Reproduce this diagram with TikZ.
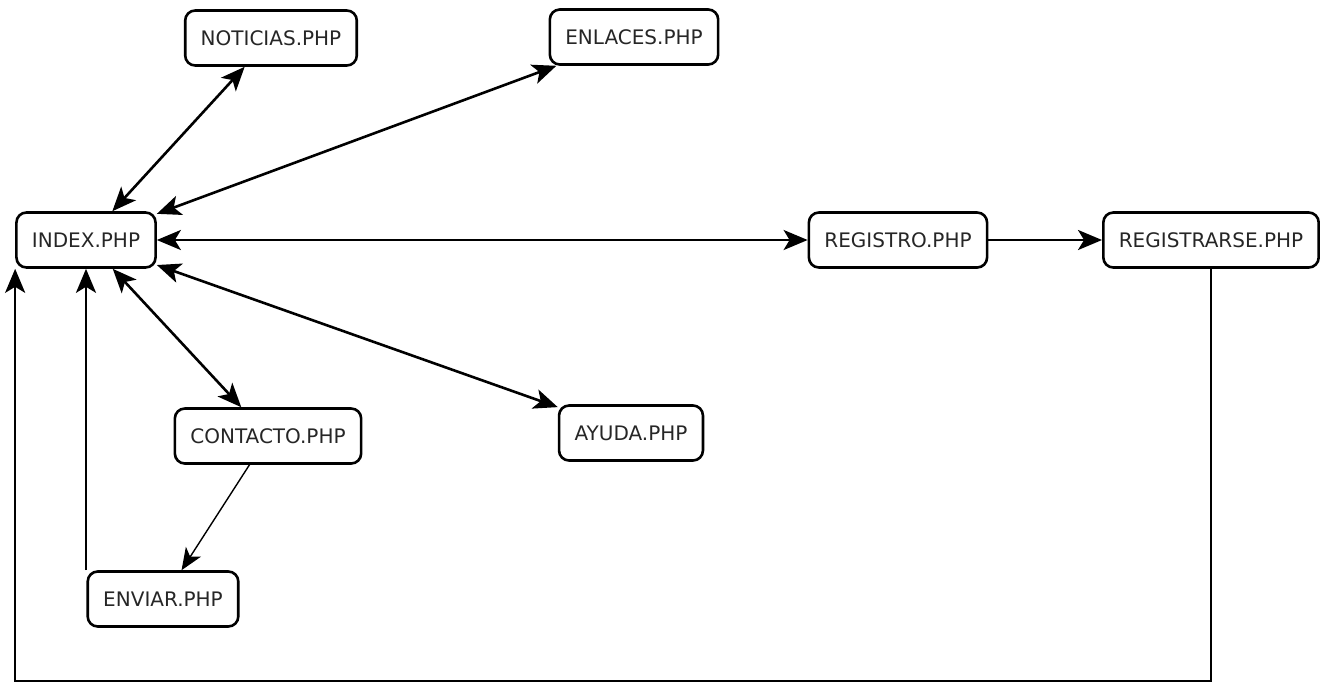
\documentclass[tikz,border=0pt]{standalone}
\usepackage{fontspec}
\setmainfont{DejaVu Sans}
\usetikzlibrary{arrows.meta}
\begin{document}
\begin{tikzpicture}[
x=0.5pt,y=-0.5pt,
every node/.style={draw,rounded corners=5pt,line width=1.3pt,minimum height=27.5pt,inner xsep=7.75pt,text=black!85,font=\fontsize{10}{12}\selectfont},
link/.style={line width=1.3pt,-{Stealth[length=12pt,width=10pt,inset=3pt]}},
biglink/.style={link,{Stealth[length=12pt,width=10pt,inset=3pt]}-{Stealth[length=12pt,width=10pt,inset=3pt]}},
thinlink/.style={line width=0.7pt,-{Stealth[length=11pt,width=9pt,inset=3pt]}}
]
\useasboundingbox (0,0) rectangle (1327,681);
\node (index) at (86,240) {INDEX.PHP};
\node (noticias) at (271,38) {NOTICIAS.PHP};
\node (enlaces) at (634,37) {ENLACES.PHP};
\node (registro) at (898,240) {REGISTRO.PHP};
\node (registrarse) at (1211,240) {REGISTRARSE.PHP};
\node (contacto) at (268,436) {CONTACTO.PHP};
\node (ayuda) at (631,433) {AYUDA.PHP};
\node (enviar) at (163,599) {ENVIAR.PHP};
\coordinate (base) at (0,681.5);
% enlaces desde index
\draw[biglink] (index) -- (noticias);
\draw[biglink] (index) -- (enlaces);
\draw[biglink] (index) -- (registro);
\draw[biglink] (index) -- (contacto);
\draw[biglink] (index) -- (ayuda);
\draw[link] (registro) -- (registrarse);
\draw[thinlink] (contacto) -- (enviar);
\draw[link] (enviar.north -| index.south) -- (index.south);
% vuelta a index
\draw[link] (registrarse.south) -- (registrarse.south |- base) -- (index.south west |- base) -- (index.south west);
\end{tikzpicture}
\end{document}
